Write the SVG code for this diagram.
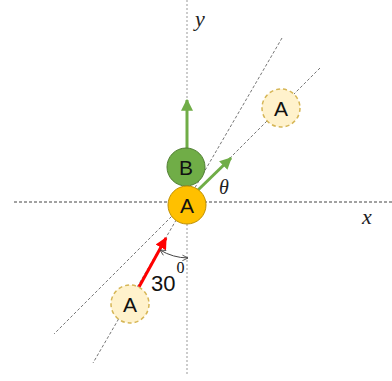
<svg xmlns="http://www.w3.org/2000/svg" width="392" height="381" viewBox="0 0 392 381">
<style>
.axis{fill:none;stroke-width:1}
.diag{fill:none;stroke:#666;stroke-width:0.9;stroke-dasharray:3 2}
.lbl{font-family:"Liberation Sans","Open Sans",sans-serif;font-size:21px;fill:#111;text-anchor:middle}
.math{font-family:"Liberation Serif","DejaVu Serif",serif;font-style:italic;fill:#222}
.ghost{fill:#FFF2CC;stroke:#D6B656;stroke-width:1.5;stroke-dasharray:4 3}
</style>
<defs>
<marker id="ag" viewBox="0 0 10 10" refX="9" refY="5" markerWidth="4" markerHeight="4" orient="auto" markerUnits="strokeWidth">
<path d="M0,0 L10,5 L0,10 z" fill="#70AD47"/>
</marker>
<marker id="ar" viewBox="0 0 10 10" refX="9" refY="5" markerWidth="4" markerHeight="4" orient="auto" markerUnits="strokeWidth">
<path d="M0,0 L10,5 L0,10 z" fill="#FF0000"/>
</marker>
<marker id="ao" viewBox="0 0 10 10" refX="9" refY="5" markerWidth="7" markerHeight="7" orient="auto-start-reverse" markerUnits="userSpaceOnUse">
<path d="M1,1 L9,5 L1,9" fill="none" stroke="#444" stroke-width="1.2"/>
</marker>
</defs>
<g id="connectors">
<line class="axis" x1="187" y1="0" x2="187" y2="375" stroke="#999" stroke-dasharray="2 2"/>
<line class="axis" x1="14" y1="202" x2="392" y2="202" stroke="#444" stroke-dasharray="3 2"/>
<line class="diag" x1="320" y1="68" x2="54" y2="334"/>
<line class="diag" x1="282" y1="38" x2="93" y2="363"/>
<line x1="187" y1="148" x2="187" y2="100" stroke="#70AD47" stroke-width="3" marker-end="url(#ag)"/>
<line x1="197" y1="191" x2="231" y2="158" stroke="#70AD47" stroke-width="3" marker-end="url(#ag)"/>
<line x1="139" y1="287" x2="166" y2="238" stroke="#FF0000" stroke-width="3" marker-end="url(#ar)"/>
<path d="M160,250 A56,56 0 0 0 188,258" fill="none" stroke="#444" stroke-width="1" marker-start="url(#ao)" marker-end="url(#ao)"/>
</g>
<g id="ghostA1">
<circle class="ghost" cx="281" cy="108" r="19"/>
<text class="lbl" x="281" y="115.5">A</text>
</g>
<g id="ghostA2">
<circle class="ghost" cx="130" cy="304" r="19"/>
<text class="lbl" x="130" y="311.5">A</text>
</g>
<g id="nodeB">
<circle cx="186" cy="167" r="19" fill="#70AD47" stroke="#507E32" stroke-width="1"/>
<text class="lbl" x="186" y="174.5">B</text>
</g>
<g id="nodeA">
<circle cx="187" cy="205" r="19" fill="#FFC000" stroke="#BF9000" stroke-width="1"/>
<text class="lbl" x="187" y="212.5">A</text>
</g>
<g id="labels">
<text class="math" x="195" y="26" font-size="22">y</text>
<text class="math" x="362" y="224" font-size="22">x</text>
<text class="math" x="219" y="194" font-size="20">θ</text>
<text x="151" y="291" font-family="Liberation Sans,Open Sans,sans-serif" font-size="22" fill="#111">30<tspan font-family="Liberation Serif,serif" font-size="16" dx="1" dy="-18">0</tspan></text>
</g>
</svg>
